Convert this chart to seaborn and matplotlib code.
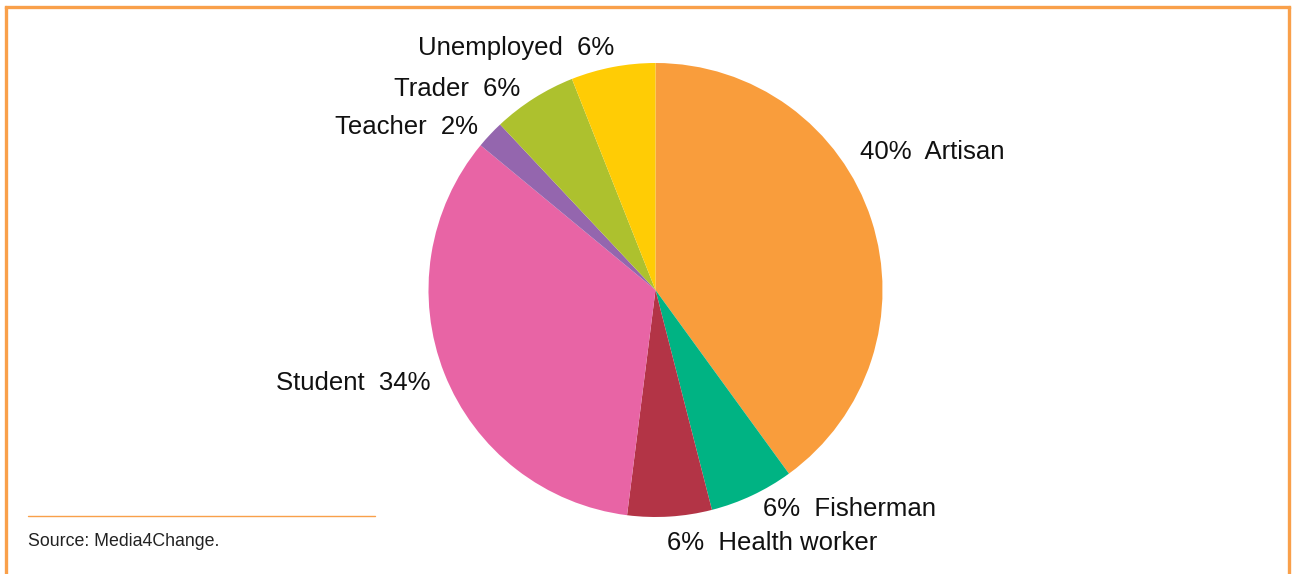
import matplotlib
matplotlib.use("Agg")
import matplotlib.pyplot as plt
import seaborn as sns
from matplotlib.lines import Line2D

sns.set_theme(style="white")
plt.rcParams['font.family'] = ['Liberation Sans', 'DejaVu Sans']

# Data
categories = ["Artisan", "Fisherman", "Health worker", "Student", "Teacher", "Trader", "Unemployed"]
values = [40, 6, 6, 34, 2, 6, 6]
colors = ["#F99D3C", "#00B383", "#B33446", "#E864A5", "#9466AE", "#ADC12E", "#FFCC05"]
label_texts = ["40%  Artisan", "6%  Fisherman", "6%  Health worker", "Student  34%",
               "Teacher  2%", "Trader  6%", "Unemployed  6%"]
source = "Source: Media4Change."

W, H = 1293, 574
fig = plt.figure(figsize=(W / 100, H / 100), dpi=100)
ax = fig.add_axes([0, 0, 1, 1])

cx, cy, R = 655.5, H - 290, 227
wedges, texts = ax.pie(values, colors=colors, startangle=90, counterclock=False,
                       center=(cx, cy), radius=R, labels=label_texts,
                       wedgeprops=dict(linewidth=0), textprops=dict(fontsize=18.5, color="#111111"))

# label placement (pixel coords of figure, y from top)
label_pos = [(860, 152, "left"), (763, 509, "left"), (667, 543, "left"),
             (430, 383, "right"), (478, 127, "right"), (520, 89, "right"), (614, 48, "right")]
for t, (x, y, ha) in zip(texts, label_pos):
    t.set_position((x, H - y))
    t.set_ha(ha)
    t.set_va("center")

ax.set_xlim(0, W)
ax.set_ylim(0, H)
ax.set_aspect("equal")
ax.axis("off")

border = "#F9A04A"
# frame: top, left, right (bottom open)
ax.add_line(Line2D([6, 1289], [H - 7, H - 7], color=border, lw=2.4, solid_capstyle="projecting"))
ax.add_line(Line2D([6, 6], [0, H - 7], color=border, lw=2.4))
ax.add_line(Line2D([1289, 1289], [0, H - 7], color=border, lw=2.4))
# source rule
ax.add_line(Line2D([28, 375], [H - 515.5, H - 515.5], color=border, lw=1.0))
ax.text(28, H - 542, source, fontsize=12.8, color="#222222", ha="left", va="center")

fig.savefig("out.png", dpi=100)
